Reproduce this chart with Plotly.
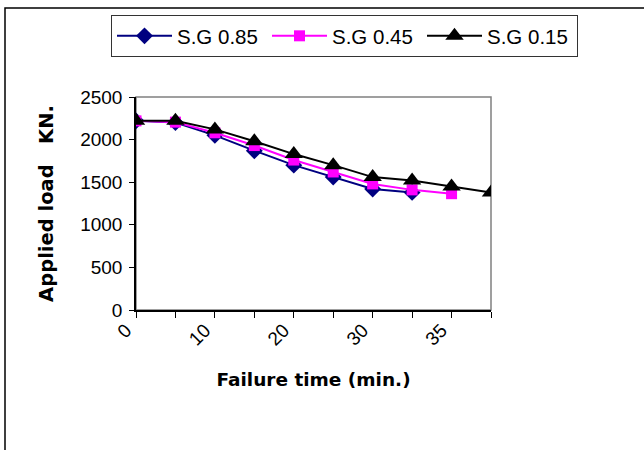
import plotly.graph_objects as go

# ---- data ----
time_labels = ["0", "", "10", "", "20", "", "30", "", "35", ""]
sg085 = [2220, 2200, 2050, 1870, 1700, 1560, 1420, 1380]
sg045 = [2220, 2205, 2080, 1930, 1760, 1620, 1480, 1410, 1365]
sg015 = [2220, 2220, 2120, 1980, 1830, 1700, 1560, 1520, 1450, 1380]
series_names = ["S.G 0.85", "S.G 0.45", "S.G 0.15"]
y_ticks = [0, 500, 1000, 1500, 2000, 2500]

positions = list(range(len(time_labels)))

FONT = "Liberation Sans, Arial, sans-serif"
TITLE_FONT = "DejaVu Sans, Liberation Sans, sans-serif"

fig = go.Figure()
fig.add_trace(go.Scatter(
    x=positions[:len(sg085)], y=sg085, name=series_names[0], mode="lines+markers",
    line=dict(color="#000080", width=2),
    marker=dict(symbol="diamond", size=13, color="#000080"),
))
fig.add_trace(go.Scatter(
    x=positions[:len(sg045)], y=sg045, name=series_names[1], mode="lines+markers",
    line=dict(color="#FF00FF", width=2),
    marker=dict(symbol="square", size=11, color="#FF00FF"),
))
fig.add_trace(go.Scatter(
    x=positions[:len(sg015)], y=sg015, name=series_names[2], mode="lines+markers",
    line=dict(color="#000000", width=2),
    marker=dict(symbol="triangle-up", size=16, color="#000000"),
))

W, H = 644, 450
L, R, T, B = 136, 153, 97, 140
pw, ph = W - L - R, H - T - B

def px(xp):
    return (xp - L) / pw

def py(yp):
    return (H - B - yp) / ph

fig.update_layout(
    width=W, height=H,
    margin=dict(l=L, r=R, t=T, b=B, autoexpand=False),
    paper_bgcolor="white", plot_bgcolor="white",
    font=dict(family=FONT, size=19, color="black"),
    showlegend=True,
    legend=dict(
        orientation="h",
        x=px(111), y=py(15), xanchor="left", yanchor="top",
        bordercolor="#333333", borderwidth=1,
        font=dict(family=FONT, size=20.5, color="black"),
        entrywidth=85, entrywidthmode="pixels",
        itemwidth=55,
        bgcolor="white",
    ),
    xaxis=dict(
        range=[0, len(time_labels) - 1],
        tickmode="array", tickvals=positions, ticktext=time_labels,
        tickangle=-45,
        ticks="outside", ticklen=6, tickcolor="black", tickwidth=1,
        ticklabelshift=-10, ticklabelstandoff=-6,
        showline=True, linecolor="black", linewidth=1.5,
        showgrid=False, zeroline=False,
        tickfont=dict(family=FONT, size=19),
        title=dict(text="<b>Failure time (min.)</b>", font=dict(family=TITLE_FONT, size=18.5), standoff=25),
        automargin=False,
    ),
    yaxis=dict(
        range=[0, 2500],
        tickmode="array", tickvals=y_ticks,
        ticks="outside", ticklen=5, tickcolor="black", tickwidth=1,
        ticklabelstandoff=3,
        showline=True, linecolor="black", linewidth=1.5,
        showgrid=False, zeroline=False,
        tickfont=dict(family=FONT, size=19),
        title=dict(text="<b>Applied load&nbsp;&nbsp;&nbsp;KN.</b>", font=dict(family=TITLE_FONT, size=19.5), standoff=21),
        automargin=False,
    ),
    shapes=[
        # plot area border (grey)
        dict(type="rect", xref="paper", yref="paper", x0=0, x1=1, y0=0, y1=1,
             line=dict(color="#808080", width=1.5), layer="below"),
        # chart area frame
        dict(type="rect", xref="paper", yref="paper",
             x0=px(5), x1=px(W + 20), y0=py(H + 20), y1=py(8),
             line=dict(color="black", width=1.5), layer="below"),
    ],
)

fig.write_html("out.html")
